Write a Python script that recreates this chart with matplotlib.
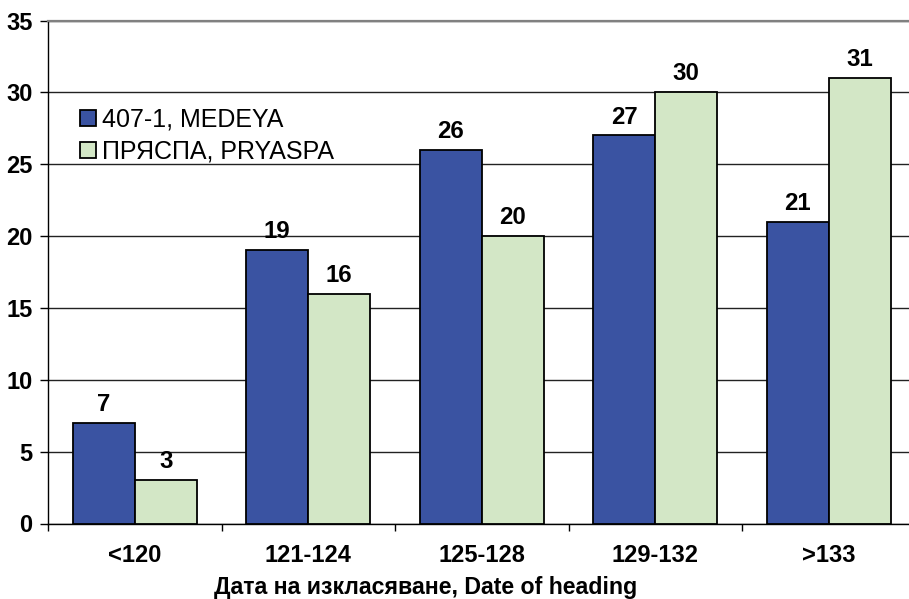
import matplotlib
matplotlib.use("Agg")
import matplotlib.pyplot as plt
import numpy as np

categories = ["<120", "121-124", "125-128", "129-132", ">133"]
medeya = [7, 19, 26, 27, 21]
pryaspa = [3, 16, 20, 30, 31]
series_names = ["407-1, MEDEYA", "ПРЯСПА, PRYASPA"]
xlabel = "Дата на изкласяване, Date of heading"
yticks = [0, 5, 10, 15, 20, 25, 30, 35]

plt.rcParams['font.family'] = ['Liberation Sans', 'DejaVu Sans']

W, H = 909, 599
fig = plt.figure(figsize=(W / 100, H / 100), dpi=100)
ax = fig.add_axes([48 / W, 75.5 / H, 867.5 / W, 503 / H])

x = np.arange(len(categories))
bw = 0.357
b1 = ax.bar(x - bw / 2, medeya, bw, color="#3A53A2", edgecolor="black", linewidth=1.3, label=series_names[0], zorder=3)
b2 = ax.bar(x + bw / 2, pryaspa, bw, color="#D3E7C6", edgecolor="black", linewidth=1.3, label=series_names[1], zorder=3)

for bars in (b1, b2):
    ax.bar_label(bars, padding=5, fontsize=17.3, fontweight="bold")

ax.set_xlim(-0.5, len(categories) - 0.5)
ax.set_ylim(0, 35)
ax.set_yticks(yticks)
ax.set_xticks(x)
ax.set_xticklabels(categories, fontsize=17, fontweight="bold")
ax.set_xticks(np.arange(-0.5, len(categories), 1.0), minor=True)
ax.tick_params(axis="x", which="major", length=0, pad=14.5)
ax.tick_params(axis="x", which="minor", length=5, width=1, direction="out", color="black")
ax.tick_params(axis="y", length=5.8, width=1, pad=5.5, labelsize=17, color="black")
for lab in ax.get_yticklabels():
    lab.set_fontweight("bold")

ax.yaxis.grid(True, color="#222222", linewidth=1, zorder=0)
ax.set_axisbelow(True)
ax.spines["right"].set_visible(False)
ax.spines["top"].set_color("#808080")
ax.spines["top"].set_linewidth(1.6)
ax.spines["left"].set_linewidth(1)
ax.spines["bottom"].set_linewidth(1)

fig.text(425.5 / W, 1 - 594 / H, xlabel, ha="center", va="baseline", fontsize=16.7, fontweight="bold")

leg = ax.legend(loc="upper left", bbox_to_anchor=(80 / W, 1 - 108 / H), bbox_transform=fig.transFigure,
                frameon=False, fontsize=18, handlelength=0.62, handleheight=0.62, handletextpad=0.25,
                labelspacing=0.3, borderaxespad=0, borderpad=0)

fig.savefig("out.png", dpi=100)
